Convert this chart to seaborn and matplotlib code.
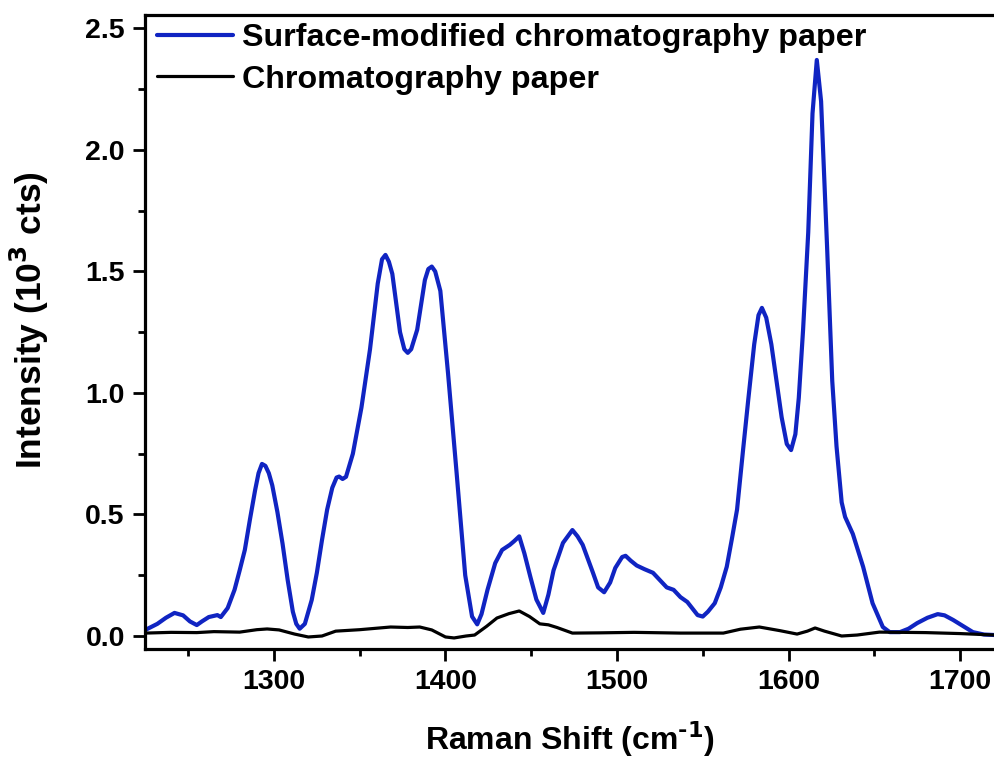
import numpy as np
import pandas as pd
import matplotlib
matplotlib.use("Agg")
import matplotlib.pyplot as plt
import seaborn as sns
from matplotlib.ticker import MultipleLocator
from matplotlib.lines import Line2D

# ---- data ----
blue_x = [1225, 1232, 1237, 1242, 1247, 1251, 1255, 1258, 1262, 1267, 1269, 1273, 1277, 1280,
          1283, 1286, 1289, 1291, 1293, 1295, 1297, 1299, 1302, 1305, 1308, 1311, 1313, 1315,
          1318, 1322, 1325, 1328, 1331, 1334, 1336.5, 1338, 1340, 1342, 1346, 1351, 1356,
          1360.5, 1363, 1365, 1367, 1369, 1373.5, 1376, 1378, 1380, 1383.5, 1388, 1390, 1392,
          1394, 1397, 1401.5, 1406.5, 1411.5, 1415.5, 1418.5, 1421, 1424.5, 1429, 1433, 1437.5,
          1440, 1443, 1446, 1449.5, 1453, 1457, 1460, 1463, 1468.5, 1474, 1477, 1480, 1486,
          1489, 1492.5, 1496, 1499, 1503, 1505, 1508, 1511.5, 1516, 1521, 1525, 1529, 1533,
          1537, 1541, 1547, 1550, 1553, 1557, 1560.5, 1564, 1567, 1570, 1573.5, 1576.5, 1580,
          1582.5, 1584.5, 1587, 1590, 1593, 1596, 1599, 1601.5, 1604, 1606, 1608.5, 1611.5,
          1614, 1616.5, 1619, 1622.5, 1625.5, 1628, 1631, 1633, 1637.5, 1643.5, 1649, 1655,
          1659, 1665, 1670, 1675, 1681, 1687, 1691, 1696, 1702, 1707.5, 1714, 1720.4]
blue_y = [0.025, 0.05, 0.075, 0.095, 0.085, 0.06, 0.045, 0.06, 0.078, 0.086, 0.078, 0.115, 0.19,
          0.27, 0.354, 0.48, 0.60, 0.67, 0.708, 0.70, 0.67, 0.62, 0.51, 0.38, 0.23, 0.10, 0.05,
          0.03, 0.05, 0.148, 0.26, 0.395, 0.52, 0.61, 0.652, 0.656, 0.646, 0.655, 0.75, 0.94,
          1.18, 1.45, 1.55, 1.568, 1.54, 1.49, 1.25, 1.18, 1.165, 1.18, 1.26, 1.465, 1.51, 1.52,
          1.50, 1.42, 1.08, 0.67, 0.25, 0.08, 0.048, 0.09, 0.19, 0.30, 0.354, 0.375, 0.39, 0.41,
          0.34, 0.243, 0.15, 0.095, 0.17, 0.27, 0.383, 0.436, 0.41, 0.375, 0.26, 0.20, 0.18,
          0.22, 0.28, 0.325, 0.33, 0.31, 0.29, 0.275, 0.26, 0.23, 0.20, 0.19, 0.16, 0.14, 0.086,
          0.08, 0.10, 0.135, 0.20, 0.285, 0.40, 0.52, 0.765, 0.97, 1.20, 1.32, 1.35, 1.31, 1.20,
          1.05, 0.90, 0.79, 0.765, 0.83, 0.98, 1.26, 1.66, 2.15, 2.37, 2.20, 1.60, 1.05, 0.78,
          0.55, 0.49, 0.42, 0.285, 0.135, 0.037, 0.016, 0.016, 0.03, 0.053, 0.075, 0.09, 0.085,
          0.066, 0.04, 0.016, 0.006, 0.004]

black_x = [1225, 1240, 1255, 1265, 1280, 1290, 1296, 1303, 1312, 1320, 1328, 1336, 1350, 1368,
           1378, 1385, 1392, 1400, 1405, 1412, 1417, 1424, 1430, 1437, 1443, 1449, 1455, 1460,
           1465, 1474, 1490, 1510, 1537, 1562, 1572, 1583, 1595, 1605, 1611, 1615.5, 1621, 1631,
           1640, 1653, 1680, 1700, 1720.4]
black_y = [0.012, 0.015, 0.014, 0.018, 0.016, 0.026, 0.029, 0.025, 0.008, -0.004, 0.0, 0.02,
           0.026, 0.037, 0.035, 0.037, 0.025, -0.004, -0.008, 0.0, 0.004, 0.04, 0.074, 0.092,
           0.103, 0.08, 0.05, 0.046, 0.035, 0.012, 0.013, 0.015, 0.012, 0.012, 0.028, 0.037,
           0.022, 0.008, 0.02, 0.033, 0.02, 0.0, 0.004, 0.016, 0.014, 0.01, 0.004]

series_names = ["Surface-modified chromatography paper", "Chromatography paper"]
x_ticks = [1300, 1400, 1500, 1600, 1700]
y_ticks = [0.0, 0.5, 1.0, 1.5, 2.0, 2.5]

df_blue = pd.DataFrame({"shift": blue_x, "intensity": blue_y})
df_black = pd.DataFrame({"shift": black_x, "intensity": black_y})

sns.set_theme(style="ticks")
plt.rcParams["font.family"] = ["Liberation Sans", "DejaVu Sans"]
plt.rcParams["font.weight"] = "bold"
plt.rcParams["mathtext.default"] = "bf"
plt.rcParams["text.color"] = "black"
plt.rcParams["axes.labelcolor"] = "black"
plt.rcParams["xtick.color"] = "black"
plt.rcParams["ytick.color"] = "black"

fig = plt.figure(figsize=(9.95, 7.58), dpi=100)
ax = fig.add_axes([145 / 995, 1 - 649.3 / 758, 1 - 145 / 995, (649.3 - 15) / 758])

colors = ["#1024c2", "#000000"]
widths = [3.0, 2.3]
for d, c, w in zip([df_blue, df_black], colors, widths):
    sns.lineplot(data=d, x="shift", y="intensity", ax=ax, sort=False, estimator=None,
                 color=c, linewidth=w, solid_joinstyle="round", solid_capstyle="round")

ax.set_xlim(1224.8, 1720.4)
ax.set_ylim(-0.0547, 2.555)
ax.set_xticks(x_ticks)
ax.set_yticks(y_ticks)
ax.set_yticklabels([f"{v:.1f}" for v in y_ticks])
ax.xaxis.set_minor_locator(MultipleLocator(50))
ax.yaxis.set_minor_locator(MultipleLocator(0.25))

for s in ["left", "bottom", "top"]:
    ax.spines[s].set_linewidth(2.3)
    ax.spines[s].set_color("black")
ax.spines["right"].set_visible(False)

ax.tick_params(axis="both", which="major", direction="out", length=8.5, width=2.0,
               labelsize=20.5, pad=6, colors="black")
ax.tick_params(axis="both", which="minor", direction="out", length=5, width=2.0, colors="black")
ax.tick_params(top=False, right=False, which="both")
for lab in ax.get_xticklabels() + ax.get_yticklabels():
    lab.set_fontweight("bold")

ax.set_xlabel("Raman Shift (cm$^{\\text{-1}}$)", fontsize=23, fontweight="bold")
ax.set_ylabel("Intensity (10$^{3}$ cts)", fontsize=25.5, fontweight="bold")
ax.xaxis.set_label_coords(0.5, -0.111)
ax.yaxis.set_label_coords(-0.111, 0.519)

handles = [Line2D([], [], color=c, lw=w) for c, w in zip(colors, widths)]
ax.legend(handles, series_names, loc="upper left", frameon=False,
          prop={"size": 23.2, "weight": "bold"}, handlelength=2.35, handletextpad=0.3,
          labelspacing=0.37, borderaxespad=0.0, bbox_to_anchor=(-0.001, 1.008))

fig.savefig("out.png", dpi=100, facecolor="white")
